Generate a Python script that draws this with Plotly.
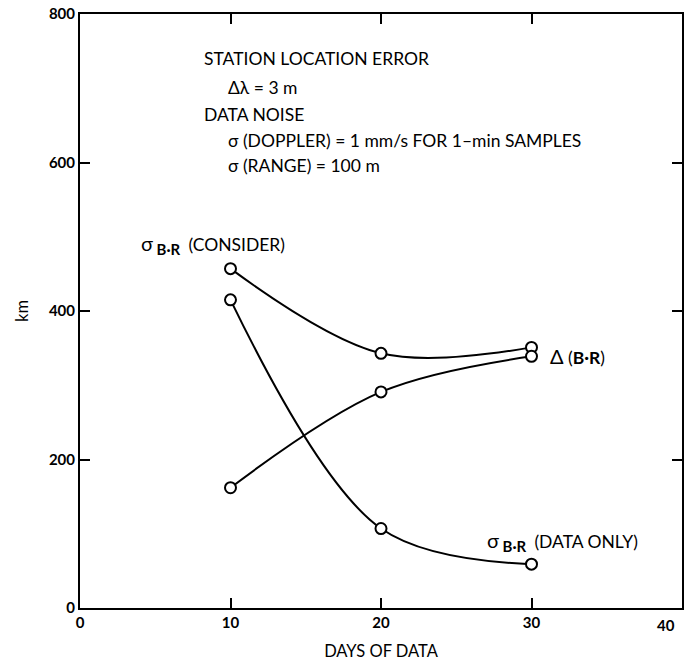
import plotly.graph_objects as go

days = [10, 20, 30]
sigma_consider = [457, 343, 351]
sigma_data_only = [415, 107, 59]
delta_br = [162, 291, 339]

x_ticks = [0, 10, 20, 30, 40]
x_tick_text = ["0", "10", "20", "30", ""]
y_ticks = [0, 200, 400, 600, 800]

FONT = "Lato"

fig = go.Figure()
for ys in (sigma_consider, sigma_data_only, delta_br):
    fig.add_trace(go.Scatter(
        x=days, y=ys, mode="lines+markers",
        line=dict(color="black", width=2, shape="spline", smoothing=1.0),
        marker=dict(size=11, color="white", line=dict(color="black", width=2)),
        showlegend=False, hoverinfo="skip", cliponaxis=False,
    ))

def ann(text, x, y, size=17.5, xanchor="left"):
    fig.add_annotation(text=text, x=x, y=y, xref="x", yref="y",
                       showarrow=False, xanchor=xanchor, yanchor="middle",
                       font=dict(family=FONT, size=size, color="black"))

ann("STATION LOCATION ERROR", 8.1, 740)
ann("Δλ = 3 m", 9.7, 701)
ann("DATA NOISE", 8.1, 664)
ann("σ (DOPPLER) = 1 mm/s FOR 1–min SAMPLES", 9.7, 629)
ann("σ (RANGE) = 100 m", 9.7, 596)

SIG = "<span style='font-size:20px'>σ</span>"
BR = "<sub><span style='font-size:15px'><b> B·R </b></span></sub>"
ann(SIG + BR + " (CONSIDER)", 3.9, 490)
ann("<span style='font-size:20px'>Δ</span> (<b>B·R</b>)", 31.1, 340)
ann(SIG + BR + " (DATA ONLY)", 26.9, 90)

# label for the last x tick, drawn slightly inside the frame like the original
fig.add_annotation(text="40", x=40, y=0, xref="x", yref="y", showarrow=False,
                   xanchor="center", yanchor="top", xshift=-16, yshift=-6,
                   font=dict(family=FONT, size=15, color="black", weight="bold"))

axis_common = dict(
    showline=True, linecolor="black", linewidth=2, mirror="ticks",
    ticks="inside", ticklen=10, tickwidth=1.5, tickcolor="black",
    showgrid=False, zeroline=False, automargin=False,
    tickfont=dict(family=FONT, size=15, color="black", weight="bold"),
    title_font=dict(family=FONT, size=16.5, color="black"),
)

fig.update_xaxes(range=[0, 40], tickvals=x_ticks, ticktext=x_tick_text,
                 title_text="DAYS OF DATA", title_standoff=15, **axis_common)
fig.update_yaxes(range=[0, 800], tickvals=y_ticks, ticktext=[str(v) for v in y_ticks],
                 title_text="km", title_standoff=16, **axis_common)

fig.update_layout(
    width=693, height=664,
    margin=dict(l=80, r=11, t=14, b=56),
    paper_bgcolor="white", plot_bgcolor="white",
    font=dict(family=FONT, color="black"),
)

fig.write_html(
    "out.html",
    config={"displayModeBar": False},
    post_script="document.body.style.margin='0';document.body.style.overflow='hidden';",
)
